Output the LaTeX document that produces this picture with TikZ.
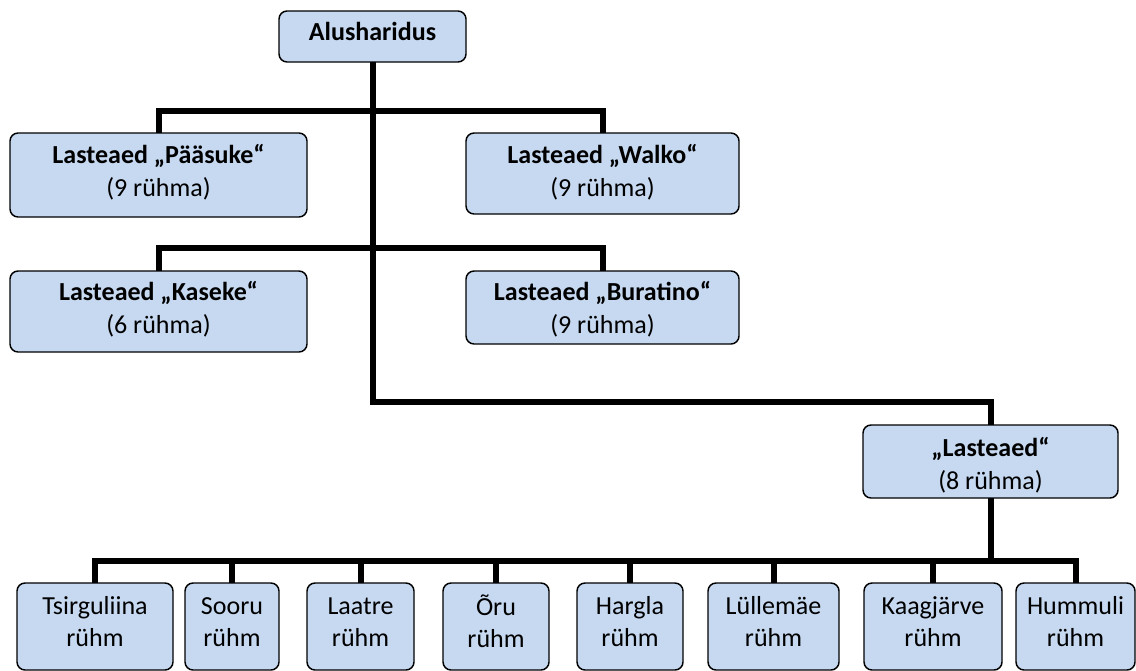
\documentclass[tikz,border=0pt]{standalone}
\usepackage{fontspec}
\setmainfont{Carlito}
\newdimen\pxu \pxu=0.75pt
\newcommand\twol[4]{\rule{0pt}{#1\pxu}#3\\#4\rule[-#2\pxu]{0pt}{0pt}}
\definecolor{boxfill}{RGB}{198,217,241}
\tikzset{
  orgbox/.style={draw=black, fill=boxfill, line width=1.1pt, rounded corners=6pt,
    inner sep=0pt, outer sep=0pt, align=center, text=black,
    font=\fontsize{19.5}{24.75}\selectfont},
  topbox/.style={orgbox, font=\fontsize{19.5}{24.75}\selectfont\bfseries},
  grpbox/.style={orgbox, minimum height=87\pxu, font=\fontsize{19.5}{24}\selectfont},
  conn/.style={draw=black, line width=4.5pt, line join=miter}
}
\begin{document}
\begin{tikzpicture}[x=0.75pt, y=-0.75pt]
\useasboundingbox (0,0) rectangle (1136,671);
\coordinate (b1) at (0,111);
\coordinate (b2) at (0,248);
\coordinate (b3) at (0,402);
\coordinate (b4) at (0,561);

\node[topbox, minimum width=187\pxu, minimum height=51\pxu, text height=18\pxu, text depth=9.6\pxu] (alus) at (372.5,36.5) {Alusharidus};

\node[orgbox, minimum width=297\pxu, minimum height=84\pxu] (paasuke) at (158.5,175)
  {\twol{18}{9}{\textbf{Lasteaed „Pääsuke“}}{(9 rühma)}};
\node[orgbox, minimum width=273\pxu, minimum height=81\pxu] (walko) at (602.5,173.5)
  {\twol{18}{5.4}{\textbf{Lasteaed „Walko“}}{(9 rühma)}};
\node[orgbox, minimum width=297\pxu, minimum height=81\pxu] (kaseke) at (158.5,311.5)
  {\twol{18}{8}{\textbf{Lasteaed „Kaseke“}}{(6 rühma)}};
\node[orgbox, minimum width=273\pxu, minimum height=73\pxu] (buratino) at (602.5,307.5)
  {\twol{24.4}{5}{\textbf{Lasteaed „Buratino“}}{(9 rühma)}};
\node[orgbox, minimum width=255\pxu, minimum height=73\pxu] (lasteaed) at (990.5,461.5)
  {\twol{27}{5}{\textbf{„Lasteaed“}}{(8 rühma)}};

\node[grpbox, minimum width=156\pxu] (tsir) at (95,626.5) {\twol{18}{11}{Tsirguliina}{rühm}};
\node[grpbox, minimum width=94\pxu] (sooru) at (232,626.5) {\twol{18}{11}{Sooru}{rühm}};
\node[grpbox, minimum width=107\pxu] (laatre) at (360.5,626.5) {\twol{18}{11}{Laatre}{rühm}};
\node[grpbox, minimum width=106\pxu] (oru) at (496,626.5) {\twol{18}{11}{Õru}{rühm}};
\node[grpbox, minimum width=106\pxu] (hargla) at (630,626.5) {\twol{18}{11}{Hargla}{rühm}};
\node[grpbox, minimum width=131\pxu] (lulle) at (773.5,626.5) {\twol{18}{11}{Lüllemäe}{rühm}};
\node[grpbox, minimum width=138\pxu] (kaag) at (933,626.5) {\twol{18}{11}{Kaagjärve}{rühm}};
\node[grpbox, minimum width=119\pxu] (hummuli) at (1075.5,626.5) {\twol{18}{11}{Hummuli}{rühm}};

% connectors
\draw[conn] (alus.south) |- (lasteaed.north |- b3) -- (lasteaed.north);
\draw[conn] (paasuke.north) |- (walko.north |- b1) -- (walko.north);
\draw[conn] (kaseke.north) |- (buratino.north |- b2) -- (buratino.north);
\foreach \c in {tsir,sooru,laatre,oru,hargla,lulle,kaag,hummuli}{
  \draw[conn] (lasteaed.south) |- (\c.north |- b4) -- (\c.north);
}
\end{tikzpicture}
\end{document}
